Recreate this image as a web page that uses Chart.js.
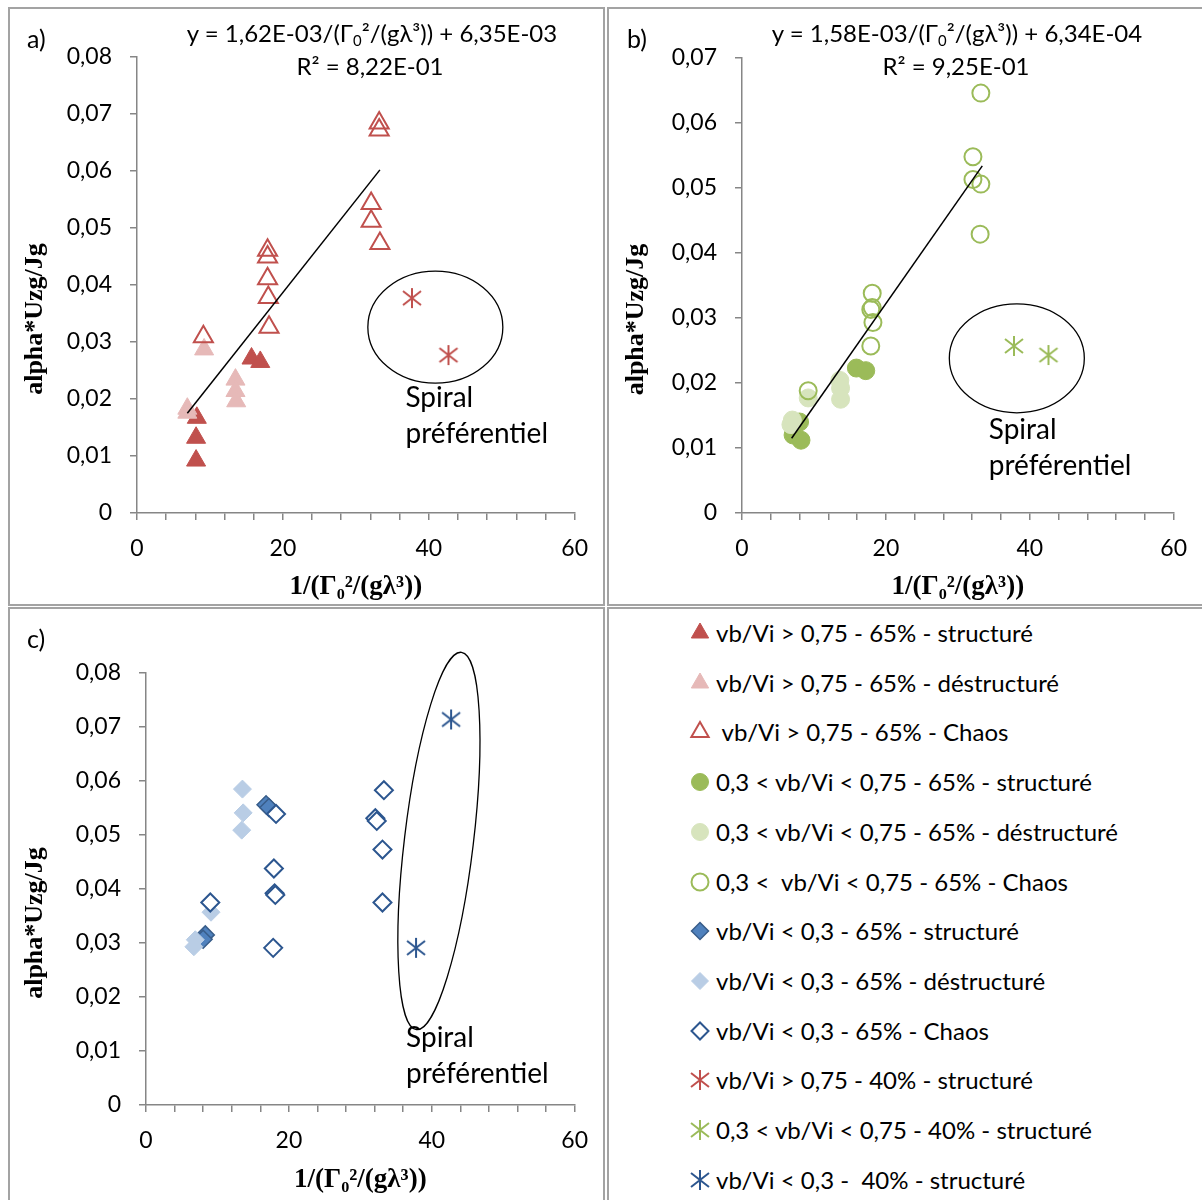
<!DOCTYPE html>
<html>
<head>
<meta charset="utf-8">
<script src="https://cdn.jsdelivr.net/npm/chart.js@4.4.1/dist/chart.umd.min.js"></script>
<style>
    body { margin: 0; background: #fff; }
    #page { position: relative; width: 1202px; height: 1200px; overflow: hidden; background: #fff; font-family: Lato, "DejaVu Sans", sans-serif; color: #000; }
    .panel { position: absolute; box-sizing: border-box; border: 2px solid #a3a3a3; overflow: hidden; }
    .panel canvas { position: absolute; left: 0; top: 0; }
    .txt { position: absolute; white-space: pre; transform: translate(-50%, -50%); font-size: 24px; }
    .txt sub { font-size: 0.62em; vertical-align: -0.3em; line-height: 0; }
    .letter { position: absolute; font-size: 25px; transform: translateY(-50%); }
    .row { position: absolute; height: 30px; line-height: 30px; white-space: pre; font-size: 24px; }
    .row canvas { position: absolute; top: 3px; }
</style>
</head>
<body>
<div id="page">
    <div class="panel" style="left:8px;top:7px;width:597px;height:599px"><canvas id="chartA" width="593" height="595"></canvas></div>
    <div class="panel" style="left:607px;top:7px;width:600px;height:599px"><canvas id="chartB" width="593" height="595"></canvas></div>
    <div class="panel" style="left:8px;top:607px;width:597px;height:600px"><canvas id="chartC" width="593" height="591"></canvas></div>
    <div class="panel" id="legend" style="left:607px;top:607px;width:600px;height:600px"></div>

    <div class="letter" style="left:27px;top:38px">a)</div>
    <div class="letter" style="left:627px;top:38px">b)</div>
    <div class="letter" style="left:27px;top:638px">c)</div>

    <div class="txt" style="left:372px;top:32px">y = 1,62E-03/(Γ<sub>0</sub>²/(gλ³)) + 6,35E-03</div>
    <div class="txt" style="left:370px;top:65px">R² = 8,22E-01</div>
    <div class="txt" style="left:957px;top:32px">y = 1,58E-03/(Γ<sub>0</sub>²/(gλ³)) + 6,34E-04</div>
    <div class="txt" style="left:956px;top:65px">R² = 9,25E-01</div>
</div>
<script>
// a) vb/Vi > 0,75   [x, y]
const aStruct = [[8.2, 0.0167], [8.1, 0.0132], [8.1, 0.0092], [15.7, 0.0271], [16.9, 0.0265]];
const aDestr = [[6.9, 0.0183], [6.9, 0.0176], [9.2, 0.0287], [13.5, 0.0234], [13.5, 0.0214], [13.6, 0.0196]];
const aChaos = [[9.1, 0.0309], [17.9, 0.0461], [17.9, 0.0449], [17.9, 0.0411], [18.0, 0.0378], [18.1, 0.0326],
    [32.1, 0.0543], [32.1, 0.0512], [33.2, 0.0684], [33.2, 0.0672], [33.3, 0.0473]];
const aSpiral = [[37.7, 0.0377], [42.7, 0.0277]];
const aTrend = [[6.9, 0.0175], [33.3, 0.0602]];

// b) 0,3 < vb/Vi < 0,75
const bStruct = [[7.1, 0.0120], [8.2, 0.0112], [8.0, 0.0140], [15.9, 0.0223], [17.2, 0.0219]];
const bDestr = [[7.0, 0.0143], [6.8, 0.0136], [9.2, 0.0177], [13.6, 0.0204], [13.7, 0.0192], [13.7, 0.0175]];
const bChaos = [[9.2, 0.0188], [17.9, 0.0257], [18.2, 0.0293], [17.9, 0.0313], [18.1, 0.0316], [18.1, 0.0338],
    [32.1, 0.0548], [32.1, 0.0513], [33.2, 0.0506], [33.1, 0.0429], [33.2, 0.0646]];
const bSpiral = [[37.8, 0.0257], [42.6, 0.0243]];
const bTrend = [[6.9, 0.0115], [33.4, 0.0534]];

// c) vb/Vi < 0,3
const cStruct = [[8.3, 0.0315], [8.0, 0.0307], [16.8, 0.0556], [17.2, 0.0551]];
const cDestr = [[6.9, 0.0306], [6.7, 0.0293], [9.1, 0.0357], [13.4, 0.0509], [13.6, 0.0541], [13.5, 0.0585]];
const cChaos = [[9.0, 0.0375], [17.8, 0.0291], [18.0, 0.0392], [18.1, 0.0389], [17.9, 0.0438], [18.2, 0.0539],
    [32.1, 0.0531], [32.3, 0.0526], [33.1, 0.0473], [33.1, 0.0375], [33.3, 0.0583]];
const cSpiral = [[42.7, 0.0714], [37.8, 0.0291]];

const xLabels = [0, 20, 40, 60];
const yTitle = 'alpha*Uzg/Jg';
const xTitle = '1/(Γ₀²/(gλ³))';

const legendLabels = [
    'vb/Vi > 0,75 - 65% - structuré',
    'vb/Vi > 0,75 - 65% - déstructuré',
    ' vb/Vi > 0,75 - 65% - Chaos',
    '0,3 < vb/Vi < 0,75 - 65% - structuré',
    '0,3 < vb/Vi < 0,75 - 65% - déstructuré',
    '0,3 <  vb/Vi < 0,75 - 65% - Chaos',
    'vb/Vi < 0,3 - 65% - structuré',
    'vb/Vi < 0,3 - 65% - déstructuré',
    'vb/Vi < 0,3 - 65% - Chaos',
    'vb/Vi > 0,75 - 40% - structuré',
    '0,3 < vb/Vi < 0,75 - 40% - structuré',
    'vb/Vi < 0,3 -  40% - structuré'
];

const RED = '#c0504d', RED_PALE = '#e6b9b8';
const GREEN = '#9bbb59', GREEN_PALE = '#d7e4bd';
const BLUE = '#4f81bd', BLUE_DARK = '#2c568f', BLUE_PALE = '#b9cde5';
const AXIS = '#868686';

Chart.defaults.font.family = 'Lato, "DejaVu Sans", sans-serif';
Chart.defaults.color = '#000';

// excel style star marker: vertical bar + X
const asterisk = (color) => {
    const c = document.createElement('canvas');
    c.width = 22; c.height = 22;
    const g = c.getContext('2d');
    g.strokeStyle = color;
    g.lineWidth = 2;
    g.beginPath();
    g.moveTo(11, 1); g.lineTo(11, 21);
    g.moveTo(2, 4); g.lineTo(20, 18);
    g.moveTo(20, 4); g.lineTo(2, 18);
    g.stroke();
    return c;
}

const styles = {
    aStruct: {pointStyle: 'triangle', fill: RED, stroke: RED, bw: 1, r: 11},
    aDestr: {pointStyle: 'triangle', fill: RED_PALE, stroke: RED_PALE, bw: 1, r: 11},
    aChaos: {pointStyle: 'triangle', fill: 'rgba(0,0,0,0)', stroke: RED, bw: 2, r: 11},
    bStruct: {pointStyle: 'circle', fill: GREEN, stroke: GREEN, bw: 1, r: 9},
    bDestr: {pointStyle: 'circle', fill: GREEN_PALE, stroke: GREEN_PALE, bw: 1, r: 9},
    bChaos: {pointStyle: 'circle', fill: 'rgba(0,0,0,0)', stroke: GREEN, bw: 2, r: 8.5},
    cStruct: {pointStyle: 'rectRot', fill: BLUE, stroke: '#385d8a', bw: 1.5, r: 9},
    cDestr: {pointStyle: 'rectRot', fill: BLUE_PALE, stroke: BLUE_PALE, bw: 1, r: 9},
    cChaos: {pointStyle: 'rectRot', fill: '#fff', stroke: BLUE_DARK, bw: 2, r: 9},
    aSpiral: {pointStyle: asterisk(RED), fill: RED, stroke: RED, bw: 0, r: 11},
    bSpiral: {pointStyle: asterisk(GREEN), fill: GREEN, stroke: GREEN, bw: 0, r: 11},
    cSpiral: {pointStyle: asterisk(BLUE_DARK), fill: BLUE_DARK, stroke: BLUE_DARK, bw: 0, r: 11}
}
const legendKeys = ['aStruct', 'aDestr', 'aChaos', 'bStruct', 'bDestr', 'bChaos', 'cStruct', 'cDestr', 'cChaos', 'aSpiral', 'bSpiral', 'cSpiral'];

const pts = (arr) => arr.map(([x, y]) => ({x, y}));

const scatter = (data, key, order) => {
    let s = styles[key];
    return {
        data: pts(data),
        showLine: false,
        pointStyle: s.pointStyle,
        pointBackgroundColor: s.fill,
        pointBorderColor: s.stroke,
        pointBorderWidth: s.bw,
        pointRadius: s.r,
        pointHoverRadius: s.r,
        order: order
    }
}

const trend = (data) => ({
    type: 'line',
    data: pts(data),
    borderColor: '#000',
    borderWidth: 1.5,
    pointRadius: 0,
    order: 0
})

// ellipse, "Spiral préférentiel" and the rotated y title
const notesPlugin = {
    id: 'notes',
    afterDatasetsDraw(chart, args, opts) {
        const {ctx, chartArea} = chart;
        const x = chart.scales.x, y = chart.scales.y;
        ctx.save();
        let e = opts.ellipse;
        ctx.beginPath();
        ctx.ellipse(x.getPixelForValue(e.x), y.getPixelForValue(e.y), e.rx, e.ry, e.rot, 0, Math.PI * 2);
        ctx.strokeStyle = '#000';
        ctx.lineWidth = 1.3;
        ctx.stroke();

        ctx.fillStyle = '#000';
        ctx.font = '28px Lato, "DejaVu Sans", sans-serif';
        ctx.textAlign = 'left';
        ctx.textBaseline = 'middle';
        let sx = x.getPixelForValue(opts.text.x), sy = y.getPixelForValue(opts.text.y);
        ctx.fillText('Spiral', sx, sy);
        ctx.fillText('préférentiel', sx, sy + 36);

        ctx.translate(opts.yTitleX, (chartArea.top + chartArea.bottom) / 2 + 34);
        ctx.rotate(-Math.PI / 2);
        ctx.font = 'bold 26px "Liberation Serif", serif';
        ctx.textAlign = 'center';
        ctx.fillText(yTitle, 0, 0);
        ctx.restore();
    }
}

const makeChart = (id, datasets, area, yMax, notes) => {
    const canvas = document.getElementById(id);
    const W = canvas.width, H = canvas.height;
    const grid = {display: true, drawOnChartArea: false, drawTicks: true, tickLength: 7, color: AXIS, lineWidth: 1.5};
    const border = {display: true, color: AXIS, width: 1.5};

    return new Chart(canvas, {
        type: 'scatter',
        data: {datasets},
        options: {
            responsive: false,
            animation: false,
            layout: {padding: {left: 0, top: area.top, right: W - area.right, bottom: 0}},
            plugins: {legend: {display: false}, tooltip: {enabled: false}, notes},
            scales: {
                x: {
                    type: 'linear', min: 0, max: 60,
                    grid, border,
                    ticks: {
                        stepSize: 4, autoSkip: false, maxRotation: 0, padding: 15,
                        font: {size: 23},
                        callback: (v) => xLabels.includes(v) ? String(v) : ''
                    },
                    title: {
                        display: true, text: xTitle, color: '#000',
                        font: {size: 27, weight: 'bold', family: '"Liberation Serif", serif'},
                        padding: {top: 0, bottom: H - area.xTitleY - 16.2}
                    },
                    afterFit: (s) => { s.height = H - area.bottom }
                },
                y: {
                    type: 'linear', min: 0, max: yMax,
                    grid, border,
                    ticks: {
                        stepSize: 0.01, padding: 18,
                        font: {size: 23},
                        callback: (v) => v === 0 ? '0' : v.toFixed(2).replace('.', ',')
                    },
                    afterFit: (s) => { s.width = area.left }
                }
            }
        },
        plugins: [notesPlugin]
    });
}

makeChart('chartA', [
    trend(aTrend),
    scatter(aStruct, 'aStruct', 3),
    scatter(aDestr, 'aDestr', 2),
    scatter(aChaos, 'aChaos', 1),
    scatter(aSpiral, 'aSpiral', 1)
], {left: 127, right: 565, top: 48, bottom: 504, xTitleY: 578}, 0.08, {
    ellipse: {x: 40.9, y: 0.0326, rx: 67.5, ry: 56, rot: 0},
    text: {x: 36.8, y: 0.0202},
    yTitleX: 25
});

makeChart('chartB', [
    trend(bTrend),
    scatter(bStruct, 'bStruct', 3),
    scatter(bDestr, 'bDestr', 2),
    scatter(bChaos, 'bChaos', 1),
    scatter(bSpiral, 'bSpiral', 1)
], {left: 133, right: 567, top: 49, bottom: 504, xTitleY: 578}, 0.07, {
    ellipse: {x: 38.2, y: 0.0238, rx: 67.5, ry: 54.5, rot: 0},
    text: {x: 34.3, y: 0.0128},
    yTitleX: 27
});

makeChart('chartC', [
    scatter(cStruct, 'cStruct', 3),
    scatter(cDestr, 'cDestr', 2),
    scatter(cChaos, 'cChaos', 1),
    scatter(cSpiral, 'cSpiral', 1)
], {left: 136, right: 565, top: 64, bottom: 496, xTitleY: 571}, 0.08, {
    ellipse: {x: 41.0, y: 0.0489, rx: 34.5, ry: 190, rot: 0.119},
    text: {x: 36.4, y: 0.0124},
    yTitleX: 25
});

// legend panel
const legendBox = document.getElementById('legend');
legendLabels.forEach((label, i) => {
    let s = styles[legendKeys[i]];
    let row = document.createElement('div');
    row.className = 'row';
    row.style.left = '0px';
    row.style.top = (24 + i * 49.7 - 15) + 'px';

    let mark = document.createElement('canvas');
    mark.width = 24; mark.height = 24;
    mark.style.left = '79px';
    let g = mark.getContext('2d');
    g.fillStyle = s.fill;
    g.strokeStyle = s.stroke;
    g.lineWidth = s.bw;
    Chart.helpers.drawPoint(g, {pointStyle: s.pointStyle, radius: s.pointStyle === 'triangle' ? 10 : 8.5, rotation: 0, borderWidth: s.bw}, 12, 12);
    row.appendChild(mark);

    let span = document.createElement('span');
    span.style.position = 'absolute';
    span.style.left = '107px';
    span.textContent = label;
    row.appendChild(span);
    legendBox.appendChild(row);
});
</script>
</body>
</html>
